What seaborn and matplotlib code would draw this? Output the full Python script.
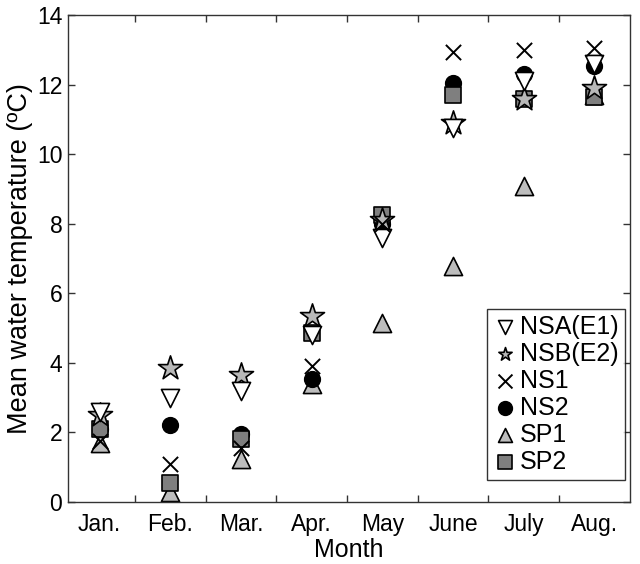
import numpy as np
import pandas as pd
import matplotlib
matplotlib.use("Agg")
import matplotlib.pyplot as plt
import seaborn as sns

months = ["Jan.", "Feb.", "Mar.", "Apr.", "May", "June", "July", "Aug."]
NSA_E1 = [2.6, 3.0, 3.2, 4.8, 7.6, 10.75, 12.1, 12.6]
NSB_E2 = [2.5, 3.85, 3.65, 5.35, 8.1, 10.9, 11.6, 11.9]
NS1 = [1.75, 1.1, 1.55, 3.9, 8.0, 12.95, 13.0, 13.05]
NS2 = [2.1, 2.2, 1.95, 3.55, 8.0, 12.05, 12.3, 12.55]
SP1 = [1.7, 0.3, 1.25, 3.4, 5.15, 6.8, 9.1, 11.7]
SP2 = [2.1, 0.55, 1.8, 4.85, 8.25, 11.7, 11.6, 11.65]

series = [
    ("NSA(E1)", NSA_E1, dict(marker="v", s=170, facecolor="white", edgecolor="black", linewidth=1.2), 5),
    ("NSB(E2)", NSB_E2, dict(marker="*", s=330, facecolor="#b8b8b8", edgecolor="black", linewidth=1.2), 4),
    ("NS1", NS1, dict(marker="x", s=120, color="black", linewidth=1.4), 6),
    ("NS2", NS2, dict(marker="o", s=130, facecolor="black", edgecolor="black", linewidth=1.0), 2.5),
    ("SP1", SP1, dict(marker="^", s=170, facecolor="#bdbdbd", edgecolor="black", linewidth=1.2), 2),
    ("SP2", SP2, dict(marker="s", s=130, facecolor="#7f7f7f", edgecolor="black", linewidth=1.2), 3),
]

sns.set_style("white")
plt.rcParams["font.family"] = ["Liberation Sans", "DejaVu Sans"]
plt.rcParams["text.color"] = "black"
plt.rcParams["axes.labelcolor"] = "black"
plt.rcParams["xtick.color"] = "black"
plt.rcParams["ytick.color"] = "black"

fig = plt.figure(figsize=(6.4, 5.64), dpi=100)
ax = fig.add_axes([0.106, 0.110, 0.878, 0.863])

x = np.arange(1, len(months) + 1)
for name, vals, kw, z in series:
    df = pd.DataFrame({"Month": x, "Temp": vals})
    sns.scatterplot(data=df, x="Month", y="Temp", ax=ax, label=name, zorder=z, **kw)

ax.set_xlim(0.55, 8.5)
ax.set_ylim(0, 14)
ax.set_xticks(x)
ax.set_xticklabels(months)
ax.set_xticks(np.arange(1.5, 8.0, 1.0), minor=True)
ax.set_yticks(np.arange(0, 15, 2))
ax.tick_params(axis="x", which="major", length=0, labelsize=16.5, pad=8)
ax.tick_params(axis="x", which="minor", direction="in", length=5, top=True, bottom=True, width=1, color="#333333")
ax.tick_params(axis="y", which="major", direction="in", length=5, left=True, right=True, labelsize=16.5, width=1, pad=4, color="#333333")
for sp in ax.spines.values():
    sp.set_color("#333333")
    sp.set_linewidth(1.0)
ax.set_xlabel("Month", fontsize=18, labelpad=1.5)
ax.set_ylabel("Mean water temperature (ºC)", fontsize=19.5, labelpad=3)

leg = ax.legend(loc="lower right", bbox_to_anchor=(0.991, 0.045), fontsize=18, frameon=True,
                fancybox=False, edgecolor="black", handletextpad=0.15, borderpad=0.25,
                labelspacing=0.12, handlelength=0.9, borderaxespad=0.0)
leg.get_frame().set_linewidth(1.0)
for h in leg.legend_handles:
    try:
        h.set_sizes([100])
    except Exception:
        pass

fig.savefig("out.png", dpi=100)
